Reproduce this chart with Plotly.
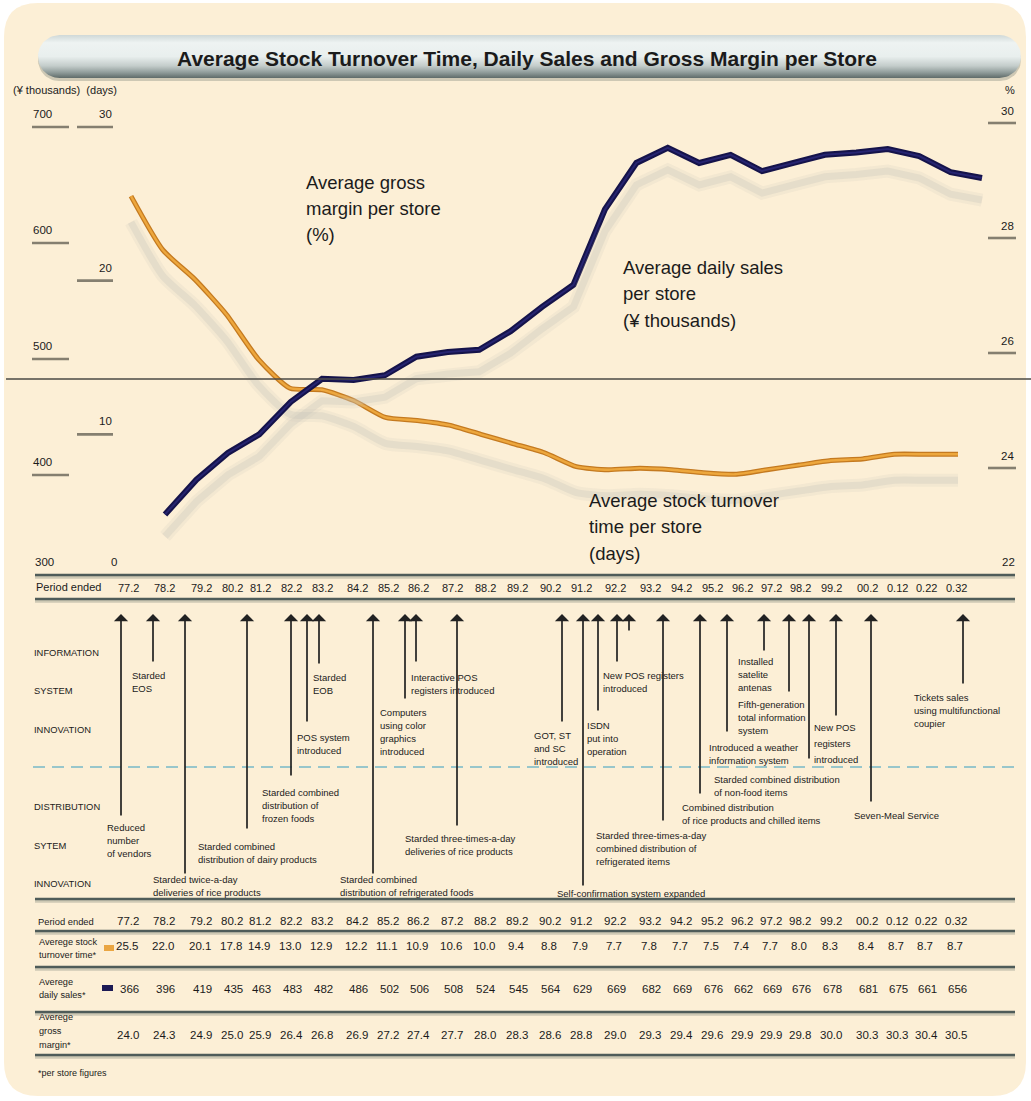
import numpy as np
import plotly.graph_objects as go

# ---------------- data ----------------
periods = ["77.2", "78.2", "79.2", "80.2", "81.2", "82.2", "83.2", "84.2", "85.2", "86.2",
           "87.2", "88.2", "89.2", "90.2", "91.2", "92.2", "93.2", "94.2", "95.2", "96.2",
           "97.2", "98.2", "99.2", "00.2", "0.12", "0.22", "0.32"]
turnover = [25.5, 22.0, 20.1, 17.8, 14.9, 13.0, 12.9, 12.2, 11.1, 10.9, 10.6, 10.0, 9.4, 8.8,
            7.9, 7.7, 7.8, 7.7, 7.5, 7.4, 7.7, 8.0, 8.3, 8.4, 8.7, 8.7, 8.7]
sales = [366, 396, 419, 435, 463, 483, 482, 486, 502, 506, 508, 524, 545, 564, 629, 669,
         682, 669, 676, 662, 669, 676, 678, 681, 675, 661, 656]
margin = [24.0, 24.3, 24.9, 25.0, 25.9, 26.4, 26.8, 26.9, 27.2, 27.4, 27.7, 28.0, 28.3, 28.6,
          28.8, 29.0, 29.3, 29.4, 29.6, 29.9, 29.9, 29.8, 30.0, 30.3, 30.3, 30.4, 30.5]

sales_ticks = [700, 600, 500, 400]
days_ticks = [30, 20, 10]
margin_ticks = [30, 28, 26, 24]

info_events = [
    "Starded|EOS", "Starded|EOB", "POS system|introduced",
    "Computers|using color|graphics|introduced", "Interactive POS|registers introduced",
    "GOT, ST|and SC|introduced", "ISDN|put into|operation", "New POS registers|introduced",
    "Introduced a weather|information system", "Installed|satelite|antenas",
    "Fifth-generation|total information|system", "New POS|registers|introduced",
    "Tickets sales|using multifunctional|coupier",
]
dist_events = [
    "Reduced|number|of vendors", "Starded twice-a-day|deliveries of rice products",
    "Starded combined|distribution of dairy products",
    "Starded combined|distribution of|frozen foods",
    "Starded combined|distribution of refrigerated foods",
    "Starded three-times-a-day|deliveries of rice products",
    "Self-confirmation system expanded",
    "Starded three-times-a-day|combined distribution of|refrigerated items",
    "Combined distribution|of rice products and chilled items",
    "Starded combined distribution|of non-food items",
    "Seven-Meal Service",
]

# ---------------- geometry ----------------
W, H = 1031, 1101
NARROW = "Liberation Sans, Arial, Helvetica, sans-serif"
SANS = "Liberation Sans, Arial, Helvetica, sans-serif"
TXT = "#1b1b1b"

n = len(periods)
step_o = (958 - 131) / (n - 1)
step_n = (982 - 165) / (n - 1)
k_s = 1.16                      # px per 1 thousand yen
k_d = (588 - 127) / 30          # px per day
k_m = (468 - 123) / 6           # px per % point
s_rng = [700 - (H - 127) / k_s, 700 + 127 / k_s]
d_rng = [30 - (H - 127) / k_d, 30 + 127 / k_d]
m_rng = [30 - (H - 123) / k_m, 30 + 123 / k_m]
SH_S, SH_D = 22, 26

idx = list(range(n))
cols = [128, 164, 201, 232, 260, 291, 322, 357, 388, 418, 452, 485, 517, 550, 581, 615,
        650, 681, 712, 742, 771, 800, 831, 867, 897, 926, 956]

fig = go.Figure()
shapes, ann = [], []


def label(x, y, text, size, anchor="left", spacing=None, color=TXT, family=NARROW):
    sp = spacing or size * 1.15
    for k, ln in enumerate(text.split("|")):
        ann.append(dict(x=x, y=y + k * sp, xref="x3", yref="y3", text=ln, showarrow=False,
                        xanchor=anchor, yanchor="middle", borderpad=0,
                        font=dict(size=size, color=color, family=family)))


def hline(x0, x1, y, color, width, dash=None):
    shapes.append(dict(type="line", xref="x3", yref="y3", x0=x0, x1=x1, y0=y, y1=y,
                       line=dict(color=color, width=width, dash=dash)))


def rule(y):
    hline(35, 1015, y + 2.2, "rgba(150,155,140,0.45)", 3)
    hline(35, 1015, y, "#4f5c59", 2.4)


# panel background (paper coordinates so it sits under every trace)
def P(x, y):
    return f"{x / W:.5f},{1 - y / H:.5f}"

r = 34
x0, x1, y0, y1 = 4, 1026, 3, 1096
shapes.append(dict(type="path", xref="paper", yref="paper", layer="below",
                   path=f"M{P(x0+r,y0)} L{P(x1-r,y0)} Q{P(x1,y0)} {P(x1,y0+r)} L{P(x1,y1-r)} "
                        f"Q{P(x1,y1)} {P(x1-r,y1)} L{P(x0+r,y1)} Q{P(x0,y1)} {P(x0,y1-r)} "
                        f"L{P(x0,y0+r)} Q{P(x0,y0)} {P(x0+r,y0)} Z",
                   fillcolor="#fcefd6", line=dict(width=0)))

# title pill
def pill(xa, xb, ya, yb):
    rr = (yb - ya) / 2
    cy = (ya + yb) / 2
    t1 = np.linspace(np.pi / 2, 3 * np.pi / 2, 30)
    t2 = np.linspace(-np.pi / 2, np.pi / 2, 30)
    xs = list(xa + rr + rr * np.cos(t1)) + list(xb - rr + rr * np.cos(t2))
    ys = list(cy - rr * np.sin(t1)) + list(cy - rr * np.sin(t2))
    return xs + [xs[0]], ys + [ys[0]]

px_, py_ = pill(38, 1021, 39, 81)
fig.add_trace(go.Scatter(x=px_, y=py_, xaxis="x3", yaxis="y3", mode="lines", fill="toself",
                         fillcolor="rgba(120,128,118,0.35)", line=dict(width=0),
                         hoverinfo="skip", showlegend=False))
px_, py_ = pill(38, 1021, 35, 78)
fig.add_trace(go.Scatter(x=px_, y=py_, xaxis="x3", yaxis="y3", mode="lines", fill="toself",
                         fillgradient=dict(type="vertical", start=35, stop=78,
                                           colorscale=[[0, "#cfd8d7"], [0.18, "#eef3f2"],
                                                       [0.5, "#e9efee"], [0.72, "#c3ccca"],
                                                       [0.88, "#8d9997"], [1, "#5f6b69"]]),
                         line=dict(width=0), hoverinfo="skip", showlegend=False))

# shadows (soft, light)
for w, c in [(13, "rgba(205,200,186,0.18)"), (7, "rgba(200,196,184,0.30)")]:
    fig.add_trace(go.Scatter(x=idx, y=turnover, xaxis="x", yaxis="y5", mode="lines",
                             line=dict(color=c, width=w, shape="spline", smoothing=0.6),
                             hoverinfo="skip", showlegend=False))
    fig.add_trace(go.Scatter(x=idx, y=sales, xaxis="x2", yaxis="y4", mode="lines",
                             line=dict(color=c, width=w), hoverinfo="skip", showlegend=False))

# stock turnover (orange)
fig.add_trace(go.Scatter(x=idx, y=turnover, xaxis="x", yaxis="y2", mode="lines",
                         line=dict(color="#c47a20", width=5, shape="spline", smoothing=0.6),
                         hoverinfo="skip", showlegend=False))
fig.add_trace(go.Scatter(x=idx, y=turnover, xaxis="x", yaxis="y2", mode="lines",
                         line=dict(color="#eda73d", width=2.4, shape="spline", smoothing=0.6),
                         name="Average stock turnover time", showlegend=False))
# daily sales (navy)
fig.add_trace(go.Scatter(x=idx, y=sales, xaxis="x2", yaxis="y", mode="lines",
                         line=dict(color="#15134a", width=6),
                         hoverinfo="skip", showlegend=False))
fig.add_trace(go.Scatter(x=idx, y=sales, xaxis="x2", yaxis="y", mode="lines",
                         line=dict(color="#262470", width=2),
                         name="Average daily sales", showlegend=False))

# title
label(527, 58, "<b>Average Stock Turnover Time, Daily Sales and Gross Margin per Store</b>",
      21, anchor="center", family=SANS)

# axis headings & ticks
label(12, 90, "(¥ thousands)  (days)", 11)
label(1016, 90, "%", 11, anchor="right")
TICKF = dict(size=11.5, color=TXT, family=NARROW)
for v in sales_ticks:
    shapes.append(dict(type="line", xref="x3", yref="y", x0=32, x1=69, y0=v, y1=v,
                       line=dict(color="#857f70", width=2.6)))
    ann.append(dict(x=31, y=v, xref="x3", yref="y", yshift=13, text=str(v), showarrow=False,
                    xanchor="left", yanchor="middle", font=TICKF))
for v in days_ticks:
    shapes.append(dict(type="line", xref="x3", yref="y2", x0=77, x1=113, y0=v, y1=v,
                       line=dict(color="#857f70", width=2.6)))
    ann.append(dict(x=114, y=v, xref="x3", yref="y2", yshift=13, text=str(v), showarrow=False,
                    xanchor="right", yanchor="middle", font=TICKF))
for v in margin_ticks:
    shapes.append(dict(type="line", xref="x3", yref="y6", x0=988, x1=1016, y0=v, y1=v,
                       line=dict(color="#857f70", width=2.6)))
    ann.append(dict(x=1016, y=v, xref="x3", yref="y6", yshift=12, text=str(v), showarrow=False,
                    xanchor="right", yanchor="middle", font=TICKF))
label(34, 562, "300", 11.5)
label(114, 562, "0", 11.5, anchor="center")
label(1016, 562, "22", 11.5, anchor="right")

# black line through chart
hline(6, 1031, 379, "#4b4a44", 1.4)

# series labels
label(305, 182, "Average gross|margin per store|(%)", 18.5, spacing=26)
label(622, 267, "Average daily sales|per store|(¥ thousands)", 18.5, spacing=26.5)
label(588, 500, "Average stock turnover|time per store|(days)", 18.5, spacing=26.5)

# top period row
rule(575)
rule(599)
label(35, 587, "Period ended", 11)
for c, p in zip(cols, periods):
    label(c, 588, p, 11, anchor="center")

# event section
for t, yy in zip(["INFORMATION", "SYSTEM", "INNOVATION", "DISTRIBUTION", "SYTEM", "INNOVATION"],
                 [652, 690, 729, 806, 845, 883]):
    label(33, yy, t, 9.4)
hline(33, 1017, 767, "#98c6cb", 2, dash="12px,7px")

info_pos = [(131, 675), (312, 677), (296, 737), (379, 712), (410, 677), (533, 735), (586, 725),
            (602, 675), (708, 747), (737, 661), (737, 704), (813, 727), (913, 697)]
dist_pos = [(106, 827), (152, 879), (197, 846), (261, 792), (339, 879), (404, 838), (556, 893),
            (595, 835), (681, 807), (713, 779), (853, 815)]
EV = 9.5
for txt, (x, y) in zip(info_events, info_pos):
    label(x, y, txt, EV, spacing=16 if txt.startswith("New POS|") else 13.3)
for txt, (x, y) in zip(dist_events, dist_pos):
    label(x, y, txt, EV, spacing=13.3)

arrows = [(121, 817), (153, 663), (185, 875), (247, 830), (291, 777), (307, 723), (319, 665),
          (373, 875), (405, 700), (416, 663), (457, 827), (562, 723), (583, 887), (598, 712),
          (617, 663), (629, 632), (663, 822), (700, 795), (727, 733), (764, 652), (789, 693),
          (809, 760), (836, 717), (871, 803), (963, 685)]
for x, yb in arrows:
    ann.append(dict(x=x, y=614, ax=x, ay=yb, xref="x3", yref="y3", axref="x3", ayref="y3",
                    text="", showarrow=True, arrowhead=1, arrowsize=1.4, arrowwidth=1.7,
                    arrowcolor="#222222", standoff=0))

# bottom table
for y in [899, 931, 967, 1012, 1055]:
    rule(y)
label(37, 921, "Period ended", 9.4)
label(38, 942, "Averege stock|turnover time*", 9.2, spacing=12.5)
label(38, 982, "Averege|daily sales*", 9.2, spacing=13)
label(38, 1017, "Averege|gross|margin*", 9.2, spacing=14)
label(37, 1073, "*per store figures", 9)
shapes.append(dict(type="rect", xref="x3", yref="y3", x0=104, x1=114, y0=945, y1=951,
                   fillcolor="#eaa642", line=dict(width=0)))
shapes.append(dict(type="rect", xref="x3", yref="y3", x0=102, x1=113, y0=985, y1=991,
                   fillcolor="#1c1a55", line=dict(width=0)))
TV = 11.5
for c, p, t, s, m in zip(cols, periods, turnover, sales, margin):
    label(c, 921, p, TV, anchor="center")
    label(c - 1, 946, f"{t:.1f}", TV, anchor="center")
    label(c + 1, 989, str(s), TV, anchor="center")
    label(c, 1035, f"{m:.1f}", TV, anchor="center")

ax_common = dict(visible=False, fixedrange=True, domain=[0, 1])
fig.update_layout(
    width=W, height=H, margin=dict(l=0, r=0, t=0, b=0),
    paper_bgcolor="white", plot_bgcolor="rgba(0,0,0,0)", showlegend=False,
    xaxis=dict(range=[-131 / step_o, (W - 131) / step_o], **ax_common),
    xaxis2=dict(range=[-165 / step_n, (W - 165) / step_n], overlaying="x", **ax_common),
    xaxis3=dict(range=[0, W], overlaying="x", **ax_common),
    yaxis=dict(range=s_rng, **ax_common),
    yaxis2=dict(range=d_rng, overlaying="y", **ax_common),
    yaxis3=dict(range=[H, 0], overlaying="y", **ax_common),
    yaxis4=dict(range=[s_rng[0] + SH_S / k_s, s_rng[1] + SH_S / k_s], overlaying="y", **ax_common),
    yaxis5=dict(range=[d_rng[0] + SH_D / k_d, d_rng[1] + SH_D / k_d], overlaying="y", **ax_common),
    yaxis6=dict(range=m_rng, overlaying="y", **ax_common),
    shapes=shapes, annotations=ann,
)
fig.write_html("out.html", config={"displayModeBar": False})
